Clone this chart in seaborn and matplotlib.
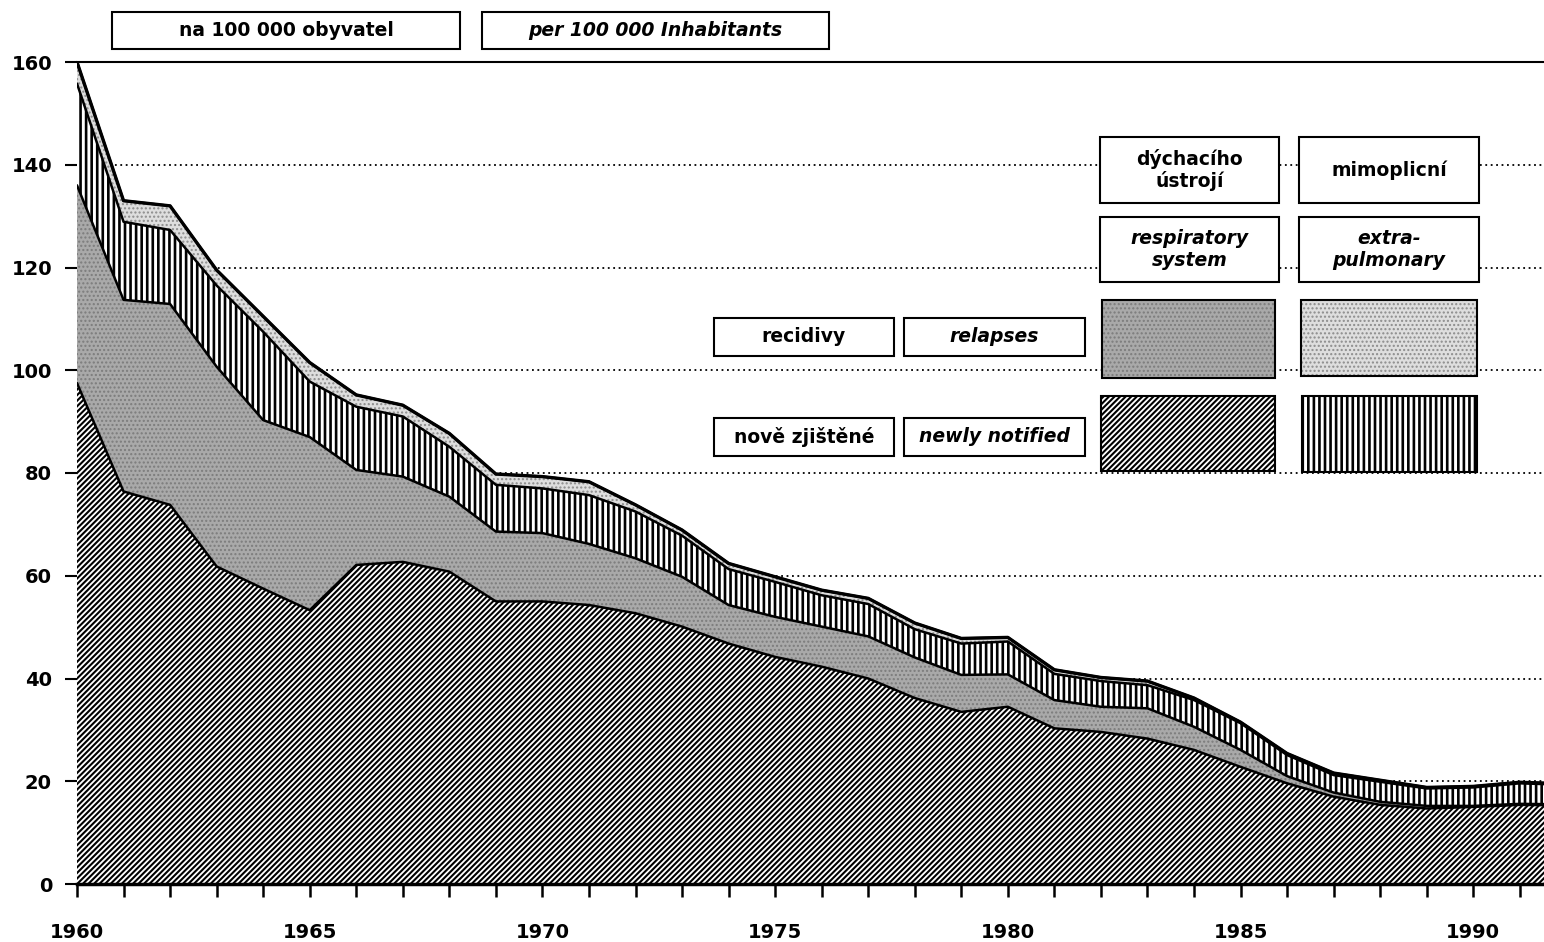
import matplotlib
matplotlib.use("Agg")
import matplotlib.pyplot as plt
from matplotlib.patches import Rectangle
import numpy as np
import seaborn as sns

# incidence per 100 000 inhabitants, stacked from the bottom
years = list(range(1960, 1993))
new_resp = [97.5, 76.4, 73.8, 61.8, 57.5, 53.3, 62.1, 62.7, 60.8, 55.0,
            55.0, 54.3, 52.7, 50.1, 46.8, 44.2, 42.3, 40.0, 36.2, 33.5,
            34.5, 30.3, 29.6, 28.3, 26.1, 22.8, 19.6, 17.0, 15.4, 14.7,
            15.0, 15.4, 15.3]
relapse_resp = [38.5, 37.3, 39.1, 38.9, 32.8, 33.7, 18.5, 16.6, 14.6, 13.6,
                13.3, 11.9, 10.7, 9.7, 7.5, 7.8, 7.8, 8.2, 7.9, 7.2,
                6.3, 5.5, 4.9, 5.9, 4.5, 3.3, 1.4, 0.8, 0.6, 0.5,
                0.2, 0.2, 0.2]
new_extra = [19.8, 15.2, 14.4, 15.8, 17.2, 10.8, 12.3, 11.7, 9.7, 9.1,
             8.7, 9.5, 9.1, 8.0, 7.0, 6.8, 6.1, 6.3, 5.5, 6.1,
             6.4, 5.1, 5.0, 4.5, 5.2, 5.2, 4.1, 3.4, 3.9, 3.4,
             3.6, 4.0, 3.8]
relapse_extra = [4.2, 4.1, 4.7, 3.0, 3.0, 3.7, 2.3, 2.2, 2.6, 2.1,
                 2.3, 2.6, 1.3, 1.1, 1.1, 1.0, 1.0, 1.1, 1.2, 1.0,
                 0.8, 0.8, 0.7, 0.8, 0.4, 0.2, 0.3, 0.4, 0.3, 0.2,
                 0.2, 0.2, 0.2]
yticks = [0, 20, 40, 60, 80, 100, 120, 140, 160]

W, H = 1544, 942

sns.set_theme(style="white")
plt.rcParams["font.family"] = ["DejaVu Sans"]
plt.rcParams["text.color"] = "black"
plt.rcParams["hatch.linewidth"] = 1.5

# (values, face, hatch, hatch colour, hatch width)
layers = [
    (new_resp, "white", "//////", "black", 1.5),
    (relapse_resp, "#a9a9a9", "....", "#7c7c7c", 1.0),
    (new_extra, "white", "|||", "black", 1.9),
    (relapse_extra, "#dedede", "....", "#8c8c8c", 1.0),
]

fig = plt.figure(figsize=(W / 100, H / 100), dpi=100)
ax = fig.add_axes([77 / W, 1 - 884 / H, 1 - 77 / W, (884 - 62) / H])

x = np.array(years, dtype=float)
bottom = np.zeros(len(years))
for vals, face, hatch, hcol, hlw in layers:
    top = bottom + np.array(vals)
    coll = ax.fill_between(x, bottom, top, facecolor=face, edgecolor=hcol,
                           hatch=hatch, linewidth=0, zorder=2)
    if hasattr(coll, "set_hatch_linewidth"):
        coll.set_hatch_linewidth(hlw)
    sns.lineplot(x=x, y=top, color="black", linewidth=1.8, ax=ax, zorder=3)
    bottom = top
sns.lineplot(x=x, y=bottom, color="black", linewidth=2.4, ax=ax, zorder=4)

ax.set_xlim(1960, 1991.52)
ax.set_ylim(0, 160)
ax.set_yticks(yticks)
ax.set_yticklabels([str(v) for v in yticks], fontsize=14, fontweight="bold")
ax.set_xticks(years[:-1])
ax.set_xticklabels([str(y) if y % 5 == 0 else "" for y in years[:-1]],
                   fontsize=14, fontweight="bold")
ax.tick_params(axis="x", direction="out", length=9, width=1.8, pad=19,
               colors="black", bottom=True)
ax.tick_params(axis="y", direction="out", length=9, width=1.5, pad=9,
               colors="black", left=True)
ax.yaxis.grid(True, color="black", linestyle=(0, (1, 2)), linewidth=1.3)
ax.xaxis.grid(False)
ax.set_axisbelow(True)
ax.set_xlabel("")
ax.set_ylabel("")
for side in ["left", "right"]:
    ax.spines[side].set_visible(False)
ax.spines["top"].set_color("black")
ax.spines["top"].set_linewidth(1.5)
ax.spines["bottom"].set_color("black")
ax.spines["bottom"].set_linewidth(2.5)
ax.spines["bottom"].set_zorder(5)


def fig_rect(x0, y0, x1, y1, **kw):
    r = Rectangle((x0 / W, 1 - y1 / H), (x1 - x0) / W, (y1 - y0) / H,
                  transform=fig.transFigure, **kw)
    fig.add_artist(r)
    return r


def label_box(x0, y0, x1, y1, text, italic=False, size=13.5):
    fig_rect(x0, y0, x1, y1, facecolor="white", edgecolor="black",
             linewidth=1.5, zorder=5)
    fig.text((x0 + x1) / 2 / W, 1 - (y0 + y1) / 2 / H, text,
             ha="center", va="center", fontsize=size, fontweight="bold",
             style="italic" if italic else "normal", linespacing=1.15,
             color="black", zorder=6)


label_box(112, 12, 460, 49, "na 100 000 obyvatel")
label_box(482, 12, 829, 49, "per 100 000 Inhabitants", italic=True)
label_box(1100, 137, 1279, 203, "dýchacího\nústrojí")
label_box(1299, 137, 1479, 203, "mimoplicní")
label_box(1100, 217, 1279, 282, "respiratory\nsystem", italic=True)
label_box(1299, 217, 1479, 282, "extra-\npulmonary", italic=True)
label_box(714, 318, 894, 356, "recidivy")
label_box(904, 318, 1085, 356, "relapses", italic=True)
label_box(714, 418, 894, 456, "nově zjištěné")
label_box(904, 418, 1085, 456, "newly notified", italic=True)

swatches = [
    ((1102, 300, 1275, 378), layers[1]),
    ((1301, 300, 1477, 376), layers[3]),
    ((1101, 396, 1275, 471), layers[0]),
    ((1302, 396, 1477, 472), layers[2]),
]
for (x0, y0, x1, y1), (_, face, hatch, hcol, hlw) in swatches:
    r = fig_rect(x0, y0, x1, y1, facecolor=face, edgecolor=hcol,
                 hatch=hatch, linewidth=0, zorder=5)
    if hasattr(r, "set_hatch_linewidth"):
        r.set_hatch_linewidth(hlw)
    fig_rect(x0, y0, x1, y1, facecolor="none", edgecolor="black",
             linewidth=1.5, zorder=6)

fig.savefig("out.png", dpi=100)
